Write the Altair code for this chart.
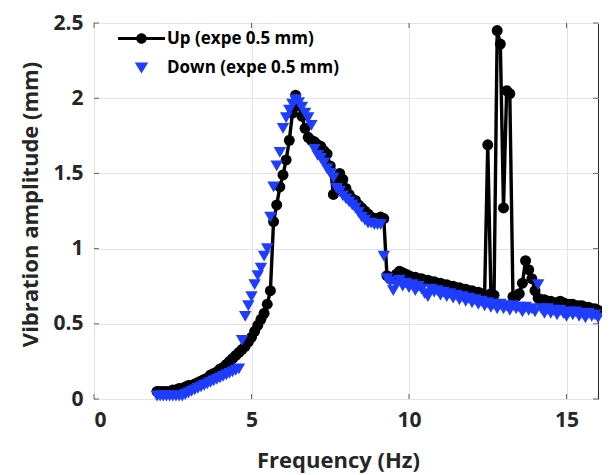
import altair as alt
import pandas as pd

# ---------------- data ----------------
freq = [2.0, 2.1, 2.2, 2.3, 2.4, 2.5, 2.6, 2.7, 2.8, 2.9,
        3.0, 3.1, 3.2, 3.3, 3.4, 3.5, 3.6, 3.7, 3.8, 3.9,
        4.0, 4.1, 4.2, 4.3, 4.4, 4.5, 4.6, 4.7, 4.8, 4.9,
        5.0, 5.1, 5.2, 5.3, 5.4, 5.5, 5.6, 5.7, 5.8, 5.9,
        6.0, 6.1, 6.2, 6.3, 6.4, 6.5, 6.6, 6.7, 6.8, 6.9,
        7.0, 7.1, 7.2, 7.3, 7.4, 7.5, 7.6, 7.7, 7.8, 7.9,
        8.0, 8.1, 8.2, 8.3, 8.4, 8.5, 8.6, 8.7, 8.8, 8.9,
        9.0, 9.1, 9.2, 9.3, 9.4, 9.5, 9.6, 9.7, 9.8, 9.9,
        10.0, 10.1, 10.2, 10.3, 10.4, 10.5, 10.6, 10.7, 10.8, 10.9,
        11.0, 11.1, 11.2, 11.3, 11.4, 11.5, 11.6, 11.7, 11.8, 11.9,
        12.0, 12.1, 12.2, 12.3, 12.4, 12.5, 12.6, 12.7, 12.8, 12.9,
        13.0, 13.1, 13.2, 13.3, 13.4, 13.5, 13.6, 13.7, 13.8, 13.9,
        14.0, 14.1, 14.2, 14.3, 14.4, 14.5, 14.6, 14.7, 14.8, 14.9,
        15.0, 15.1, 15.2, 15.3, 15.4, 15.5, 15.6, 15.7, 15.8, 15.9,
        16.0]

up_amp = [0.05, 0.05, 0.05, 0.05, 0.05, 0.06, 0.06, 0.07, 0.07, 0.08,
          0.09, 0.09, 0.10, 0.11, 0.12, 0.13, 0.14, 0.16, 0.17, 0.18,
          0.20, 0.21, 0.23, 0.25, 0.27, 0.29, 0.31, 0.33, 0.35, 0.38,
          0.41, 0.45, 0.49, 0.53, 0.57, 0.63, 0.72, 1.18, 1.29, 1.41,
          1.49, 1.59, 1.72, 1.90, 2.02, 1.95, 1.88, 1.80, 1.74, 1.72,
          1.71, 1.69, 1.68, 1.65, 1.63, 1.55, 1.36, 1.45, 1.50, 1.46,
          1.40, 1.36, 1.33, 1.32, 1.29, 1.27, 1.25, 1.23, 1.21, 1.20,
          1.20, 1.21, 1.20, 0.82, 0.80, 0.80, 0.83, 0.85, 0.84, 0.83,
          0.82, 0.81, 0.81, 0.80, 0.80, 0.79, 0.79, 0.78, 0.78, 0.77,
          0.77, 0.76, 0.76, 0.75, 0.75, 0.74, 0.74, 0.73, 0.73, 0.72,
          0.72, 0.71, 0.71, 0.70, 0.69, 1.69, 0.70, 0.69, 2.45, 2.36,
          1.27, 2.05, 2.03, 0.68, 0.68, 0.70, 0.77, 0.92, 0.86, 0.80,
          0.72, 0.67, 0.66, 0.66, 0.65, 0.65, 0.64, 0.64, 0.65, 0.64,
          0.63, 0.63, 0.63, 0.62, 0.62, 0.62, 0.61, 0.61, 0.60, 0.60,
          0.59]

down_amp = [0.02, 0.02, 0.02, 0.02, 0.02, 0.02, 0.02, 0.02, 0.02, 0.03,
            0.04, 0.05, 0.06, 0.07, 0.08, 0.09, 0.10, 0.11, 0.12, 0.13,
            0.14, 0.15, 0.16, 0.17, 0.18, 0.19, 0.20, 0.39, 0.55, 0.62,
            0.68, 0.76, 0.82, 0.87, 0.95, 1.00, 1.21, 1.41, 1.55, 1.64,
            1.80, 1.87, 1.92, 1.96, 1.99, 1.97, 1.94, 1.90, 1.87, 1.82,
            1.66, 1.62, 1.60, 1.57, 1.53, 1.50, 1.47, 1.40, 1.38, 1.35,
            1.33, 1.31, 1.29, 1.27, 1.24, 1.21, 1.19, 1.17, 1.17, 1.16,
            1.16, 1.16, 0.95, 0.80, 0.78, 0.72, 0.76, 0.79, 0.75, 0.77,
            0.74, 0.76, 0.72, 0.75, 0.73, 0.70, 0.68, 0.73, 0.71, 0.72,
            0.69, 0.71, 0.68, 0.70, 0.67, 0.69, 0.66, 0.68, 0.65, 0.67,
            0.64, 0.66, 0.63, 0.65, 0.62, 0.64, 0.61, 0.63, 0.60, 0.63,
            0.60, 0.62, 0.59, 0.62, 0.60, 0.61, 0.58, 0.61, 0.59, 0.60,
            0.58, 0.76, 0.60, 0.57, 0.60, 0.57, 0.59, 0.56, 0.59, 0.57,
            0.55, 0.58, 0.56, 0.58, 0.55, 0.57, 0.54, 0.57, 0.55, 0.56,
            0.54]

series_names = ["Up (expe 0.5 mm)", "Down (expe 0.5 mm)"]
series_colors = ["#000000", "#1f3dff"]
x_ticks = [0, 5, 10, 15]
y_ticks = [0, 0.5, 1, 1.5, 2, 2.5]

up_df = pd.DataFrame({"f": freq, "a": up_amp})
down_df = pd.DataFrame({"f": freq, "a": down_amp})
legend_df = pd.DataFrame({"s": series_names})
xt_df = pd.DataFrame({"t": x_ticks})
yt_df = pd.DataFrame({"t": y_ticks})

FONT = "Open Sans"
AX = "#262626"
BLUE = series_colors[1]

xs = alt.Scale(domain=[0, 16], nice=False, zero=False)
ys = alt.Scale(domain=[0, 2.5], nice=False, zero=False)

x_axis = alt.Axis(values=x_ticks, title="Frequency (Hz)", grid=True, tickSize=0,
                  labelPadding=10, titleX=244, titleY=61, titleBaseline="middle")
y_axis = alt.Axis(values=y_ticks, title="Vibration amplitude (mm)", grid=True, tickSize=0,
                  labelPadding=11, titleX=-64, titleY=181, titleAngle=-90,
                  titleBaseline="middle", labelExpr="datum.value == 0 ? '0' : format(datum.value, '')")

base_up = alt.Chart(up_df)

line_up = base_up.mark_line(color="#000000", strokeWidth=3.4).encode(
    x=alt.X("f:Q", scale=xs, axis=x_axis),
    y=alt.Y("a:Q", scale=ys, axis=y_axis),
)
pts_up = base_up.mark_point(filled=True, color="#000000", size=120, opacity=1, shape="circle").encode(
    x=alt.X("f:Q", scale=xs),
    y=alt.Y("a:Q", scale=ys),
)
pts_down = alt.Chart(down_df).mark_point(filled=True, color=BLUE, size=155, opacity=1,
                                         shape="triangle-down").encode(
    x=alt.X("f:Q", scale=xs),
    y=alt.Y("a:Q", scale=ys),
)

# inward ticks (MATLAB style)
tick_b = alt.Chart(xt_df).mark_tick(orient="vertical", color=AX, size=5, thickness=1, yOffset=-2.5).encode(
    x=alt.X("t:Q", scale=xs), y=alt.datum(0, scale=ys))
tick_t = alt.Chart(xt_df).mark_tick(orient="vertical", color=AX, size=5, thickness=1, yOffset=2.5).encode(
    x=alt.X("t:Q", scale=xs), y=alt.datum(2.5, scale=ys))
tick_l = alt.Chart(yt_df).mark_tick(orient="horizontal", color=AX, size=5, thickness=1, xOffset=2.5).encode(
    y=alt.Y("t:Q", scale=ys), x=alt.datum(0, scale=xs))
tick_r = alt.Chart(yt_df).mark_tick(orient="horizontal", color=AX, size=5, thickness=1, xOffset=-2.5).encode(
    y=alt.Y("t:Q", scale=ys), x=alt.datum(16, scale=xs))

up_sym = ("M-4.7,-0.3L4.7,-0.3L4.7,0.3L-4.7,0.3Z "
          "M1.05,0A1.05,1.05,0,1,1,-1.05,0A1.05,1.05,0,1,1,1.05,0Z")
down_sym = "M-1.35,-1L1.35,-1L0,1.2Z"

leg = alt.Legend(title=None, orient="none", legendX=39, legendY=7,
                 direction="vertical", symbolSize=100, symbolOpacity=1,
                 symbolStrokeWidth=0, labelFont=FONT, labelFontWeight="bold",
                 labelFontSize=17, labelColor="#000000", labelOffset=17,
                 labelLimit=400, rowPadding=11, padding=0)

# legend-only layer: its marks sit outside the view and are clipped away
legend_layer = alt.Chart(legend_df).mark_point(filled=True, opacity=1, clip=True).encode(
    x=alt.value(-1000), y=alt.value(-1000),
    shape=alt.Shape("s:N", scale=alt.Scale(domain=series_names, range=[up_sym, down_sym]), legend=leg),
    color=alt.Color("s:N", scale=alt.Scale(domain=series_names, range=series_colors), legend=leg),
)

chart = alt.layer(line_up, pts_up, pts_down, tick_b, tick_t, tick_l, tick_r, legend_layer).properties(
    width=504, height=376,
    background="white",
    autosize=alt.AutoSizeParams(type="none"),
    padding={"left": 86, "top": 15, "right": 4, "bottom": 80},
).configure_view(stroke=AX, strokeWidth=1).configure_axis(
    labelFont=FONT, labelFontWeight="bold", labelFontSize=21, labelColor=AX,
    titleFont=FONT, titleFontWeight="bold", titleFontSize=22, titleColor=AX,
    domain=False, gridColor="#e3e3e3", gridWidth=1,
)

chart.save("out.html", embed_options={"renderer": "svg", "actions": False})
